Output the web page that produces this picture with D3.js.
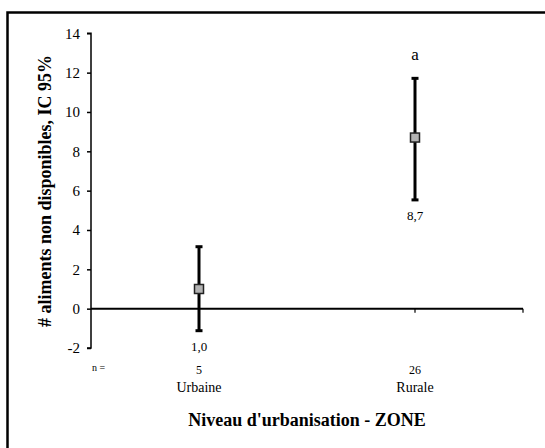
<!DOCTYPE html>
<html>
<head>
<meta charset="utf-8">
<script src="https://cdn.jsdelivr.net/npm/d3@7"></script>
<style>
  body { margin: 0; background: #fff; }
  svg text { font-family: "Liberation Serif", "Times New Roman", serif !important; }
</style>
</head>
<body>
<svg id="chart" width="545" height="448"></svg>
<script>
  // data
  const zones = ["Urbaine", "Rurale"]
  const counts = [5, 26]
  const means = [1.0, 8.7]
  const lower = [-1.12, 5.53]
  const upper = [3.15, 11.71]
  const letters = ["", "a"]
  const yTicks = [-2, 0, 2, 4, 6, 8, 10, 12, 14]

  const svg = d3.select("#chart")

  // outer frame
  svg.append("rect")
    .attr("x", 7.5).attr("y", 12.5)
    .attr("width", 545).attr("height", 445)
    .attr("fill", "none").attr("stroke", "#000").attr("stroke-width", 2.5)

  const x = d3.scaleBand().domain(zones).range([91, 523]).padding(0)
  const y = d3.scaleLinear().domain([-2, 14]).range([348, 33.3])
  const cx = z => x(z) + x.bandwidth() / 2

  // y axis
  const yAxis = svg.append("g")
    .attr("transform", "translate(91,0)")
    .call(d3.axisLeft(y).tickValues(yTicks).tickSize(4).tickPadding(7).tickFormat(d => String(d)))
  yAxis.select(".domain").attr("stroke-width", 1.5).attr("d", `M-4,${y(14)}H0V${y(-2)}H-4`)
  yAxis.selectAll(".tick line").attr("stroke-width", 1.5)
  yAxis.selectAll("text").attr("font-size", 15)

  // zero line (category axis)
  svg.append("line")
    .attr("x1", 91).attr("x2", 523)
    .attr("y1", y(0)).attr("y2", y(0))
    .attr("stroke", "#000").attr("stroke-width", 2)
  const xt = zones.map(cx).concat([523])
  svg.selectAll(".xtick").data(xt).join("line")
    .attr("x1", d => d).attr("x2", d => d)
    .attr("y1", y(0)).attr("y2", y(0) + 4)
    .attr("stroke", "#000").attr("stroke-width", 1.2)

  // error bars
  const g = svg.append("g")
  zones.forEach((z, i) => {
    const px = cx(z)
    g.append("line")
      .attr("x1", px).attr("x2", px)
      .attr("y1", y(upper[i])).attr("y2", y(lower[i]))
      .attr("stroke", "#000").attr("stroke-width", 3)
    ;[upper[i], lower[i]].forEach(v => {
      g.append("line")
        .attr("x1", px - 3.5).attr("x2", px + 3.5)
        .attr("y1", y(v)).attr("y2", y(v))
        .attr("stroke", "#000").attr("stroke-width", 3)
    })
    g.append("rect")
      .attr("x", px - 4.5).attr("y", y(means[i]) - 4.5)
      .attr("width", 9).attr("height", 9)
      .attr("fill", "#b3b3b3").attr("stroke", "#222").attr("stroke-width", 1.5)
    g.append("text")
      .attr("x", px).attr("y", y(lower[i]) + 20)
      .attr("text-anchor", "middle").attr("font-size", 13)
      .text(d3.format(".1f")(means[i]).replace(".", ","))
    if (letters[i]) {
      g.append("text")
        .attr("x", px).attr("y", y(upper[i]) - 18)
        .attr("text-anchor", "middle").attr("font-size", 17)
        .text(letters[i])
    }
    svg.append("text")
      .attr("x", px).attr("y", 374)
      .attr("text-anchor", "middle").attr("font-size", 12)
      .text(counts[i])
    svg.append("text")
      .attr("x", px).attr("y", 392)
      .attr("text-anchor", "middle").attr("font-size", 14)
      .text(z)
  })

  svg.append("text")
    .attr("x", 92).attr("y", 371)
    .attr("font-size", 10)
    .text("n =")

  // axis titles
  svg.append("text")
    .attr("x", 307).attr("y", 426)
    .attr("text-anchor", "middle")
    .attr("font-size", 18).attr("font-weight", "bold")
    .text("Niveau d'urbanisation - ZONE")

  svg.append("text")
    .attr("transform", "translate(51,191) rotate(-90)")
    .attr("text-anchor", "middle")
    .attr("font-size", 18).attr("font-weight", "bold")
    .text("# aliments non disponibles, IC 95%")
</script>
</body>
</html>
